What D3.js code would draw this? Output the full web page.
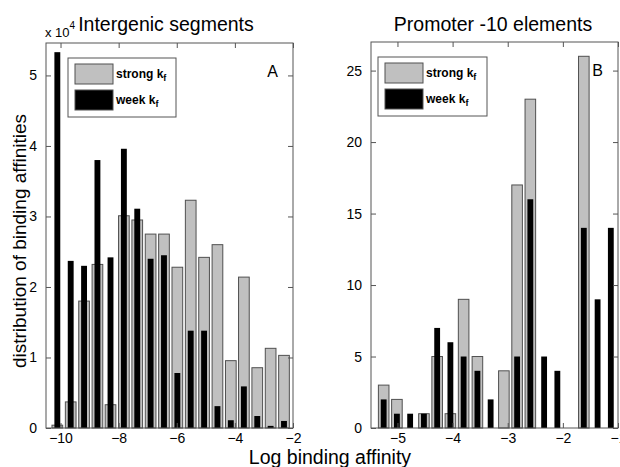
<!DOCTYPE html>
<html><head><meta charset="utf-8">
<script src="https://cdn.jsdelivr.net/npm/d3@7"></script>
<style>body{margin:0;background:#fff}svg{display:block}text{font-family:"Liberation Sans",Arial,sans-serif}</style>
</head><body>
<svg id="c" width="620" height="467"></svg>
<script>
// ---- data ----
const leftCenters = [-10.11,-9.65,-9.19,-8.73,-8.28,-7.82,-7.36,-6.90,-6.44,-5.98,-5.52,-5.06,-4.60,-4.14,-3.69,-3.23,-2.77,-2.31];
const leftStrong = [0.04,0.37,1.80,2.32,0.33,3.01,2.95,2.75,2.75,2.28,3.23,2.42,2.60,0.955,2.14,0.855,1.13,1.03]; // x 1e4
const leftWeek   = [5.33,2.37,2.30,3.80,2.42,3.96,3.11,2.40,2.45,0.78,1.38,1.38,0.31,0.11,0.59,0.17,0.03,0.10]; // x 1e4
const leftXTicks = [-10,-8,-6,-4,-2];
const leftYTicks = [0,1,2,3,4,5];

const rightCenters = [-5.25,-5.01,-4.77,-4.52,-4.28,-4.04,-3.80,-3.55,-3.31,-3.07,-2.83,-2.59,-2.34,-2.10,-1.86,-1.62,-1.37,-1.13];
const rightStrong = [3,2,0,1,5,1,9,5,0,4,17,23,0,0,0,26,0,0];
const rightWeek   = [2,1,1,1,7,6,5,4,2,0,5,16,5,4,0,14,9,14];
const rightXTicks = [-5,-4,-3,-2,-1];
const rightYTicks = [0,5,10,15,20,25];

const seriesNames = ["strong", "week"];

const svg = d3.select("#c");
const axisColor = "#555";

function panel(o){
  const g = svg.append("g");
  const x = d3.scaleLinear().domain(o.xDomain).range([o.left, o.right]);
  const y = d3.scaleLinear().domain(o.yDomain).range([o.bottom, o.top]);
  const step = x(o.centers[1]) - x(o.centers[0]);
  g.selectAll("rect.s").data(o.strong.map((v,i)=>({c:o.centers[i],v}))).join("rect")
    .attr("x", d=>x(d.c)-step*0.4).attr("width", step*0.8)
    .attr("y", d=>y(d.v)).attr("height", d=>Math.max(0,y(0)-y(d.v)))
    .attr("fill","#c0c0c0").attr("stroke","#505050").attr("stroke-width",1)
    .attr("display", d=>d.v>0?null:"none");
  g.selectAll("rect.w").data(o.week.map((v,i)=>({c:o.centers[i],v}))).join("rect")
    .attr("x", d=>x(d.c)-step*0.22).attr("width", step*0.44)
    .attr("y", d=>y(d.v)).attr("height", d=>Math.max(0,y(0)-y(d.v)))
    .attr("fill","#000").attr("display", d=>d.v>0?null:"none");
  g.append("rect").attr("x",o.left).attr("y",o.top).attr("width",o.right-o.left).attr("height",o.bottom-o.top)
    .attr("fill","none").attr("stroke",axisColor).attr("stroke-width",1);
  const ax = d3.axisBottom(x).tickValues(o.xTicks).tickSize(-5).tickPadding(5).tickFormat(d3.format("d"));
  const gx = g.append("g").attr("transform",`translate(0,${o.bottom})`).call(ax);
  const axT = d3.axisTop(x).tickValues(o.xTicks).tickSize(-5).tickFormat("");
  const gxt = g.append("g").attr("transform",`translate(0,${o.top})`).call(axT);
  const ay = d3.axisLeft(y).tickValues(o.yTicks).tickSize(-5).tickPadding(9).tickFormat(d3.format("d"));
  const gy = g.append("g").attr("transform",`translate(${o.left},0)`).call(ay);
  const ayR = d3.axisRight(y).tickValues(o.yTicks).tickSize(-5).tickFormat("");
  const gyr = g.append("g").attr("transform",`translate(${o.right},0)`).call(ayR);
  [gx,gxt,gy,gyr].forEach(a=>{
    a.select(".domain").remove();
    a.selectAll("line").attr("stroke",axisColor);
    a.selectAll("text").attr("font-size",14).attr("fill","#000").style("font-family","Liberation Sans, Arial, sans-serif");
  });
  const L = o.legend;
  g.append("rect").attr("x",L.x).attr("y",L.y).attr("width",L.w).attr("height",L.h)
    .attr("fill","#fff").attr("stroke",axisColor).attr("stroke-width",1);
  seriesNames.forEach((nm,i)=>{
    const sy = L.y + 6 + i*26;
    g.append("rect").attr("x",L.x+7).attr("y",sy).attr("width",38).attr("height",20)
      .attr("fill", i===0?"#c0c0c0":"#000").attr("stroke","#505050");
    const t = g.append("text").attr("x",L.x+48).attr("y",sy+14).attr("font-size",12).attr("font-weight","bold");
    t.append("tspan").text(nm+" k");
    t.append("tspan").attr("font-size",9).attr("dy",3).text("f");
  });
  g.append("text").attr("x",o.right-15).attr("y",o.letterY).attr("text-anchor","end")
    .attr("font-size",16).text(o.letter);
  g.append("text").attr("x",o.titleX).attr("y",31).attr("text-anchor","middle").attr("font-size",19.5).text(o.title);
  return {x,y};
}

panel({left:46,right:293,top:43,bottom:428,xDomain:[-10.5,-2],yDomain:[0,5.46],
  centers:leftCenters,strong:leftStrong,week:leftWeek,xTicks:leftXTicks,yTicks:leftYTicks,
  legend:{x:68,y:58,w:108,h:59},letter:"A",letterY:77,title:"Intergenic segments",titleX:166});
panel({left:371,right:618,top:42,bottom:428,xDomain:[-5.48,-1],yDomain:[0,27],
  centers:rightCenters,strong:rightStrong,week:rightWeek,xTicks:rightXTicks,yTicks:rightYTicks,
  legend:{x:378,y:57,w:109,h:59},letter:"B",letterY:76,title:"Promoter -10 elements",titleX:493});

const ex = svg.append("text").attr("x",45).attr("y",37).attr("font-size",13);
ex.append("tspan").text("x 10");
ex.append("tspan").attr("font-size",10).attr("dy",-8).text("4");

svg.append("text").attr("x",330).attr("y",464).attr("text-anchor","middle").attr("font-size",19.5).text("Log binding affinity");
svg.append("text").attr("transform","translate(26,241) rotate(-90)").attr("text-anchor","middle").attr("font-size",19)
  .text("distribution of binding affinities");
</script>
</body></html>
